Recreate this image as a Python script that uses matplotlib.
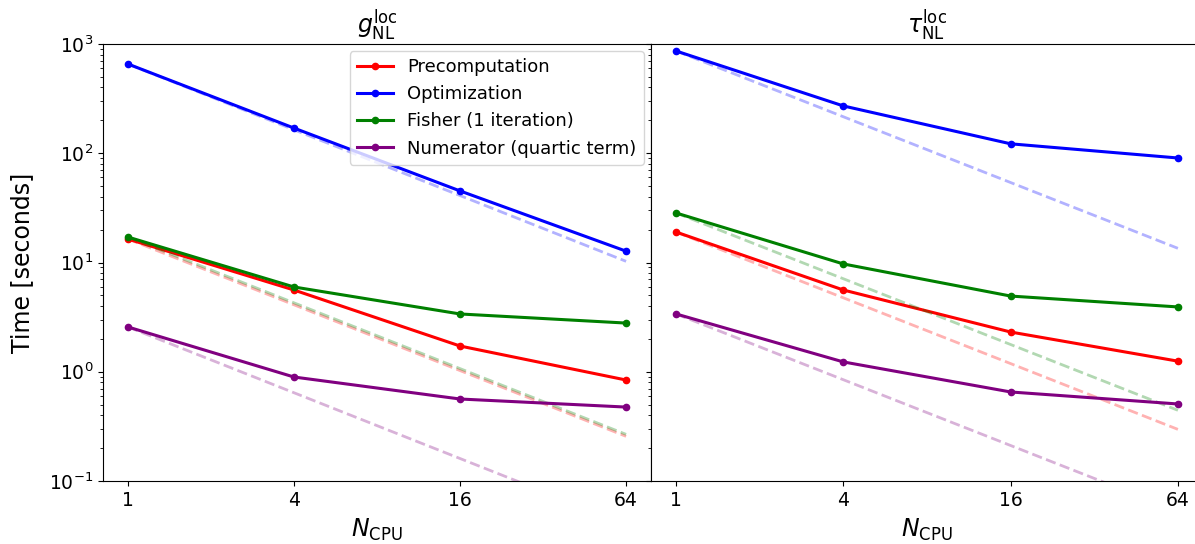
import numpy as np
import matplotlib.pyplot as plt
from matplotlib.ticker import FixedLocator, FixedFormatter, NullLocator

n_cpu = [1, 4, 16, 64]
tick_labels = ['1', '4', '16', '64']
series_names = ['Precomputation', 'Optimization', 'Fisher (1 iteration)', 'Numerator (quartic term)']
colors = ['red', 'blue', 'green', 'purple']

# g_NL^loc timings
g_pre = [16.4, 5.6, 1.72, 0.84]
g_opt = [656, 170, 45.2, 12.7]
g_fish = [17.1, 5.97, 3.38, 2.79]
g_num = [2.57, 0.895, 0.563, 0.475]

# tau_NL^loc timings
t_pre = [19.0, 5.6, 2.31, 1.25]
t_opt = [863, 271, 122, 90.5]
t_fish = [28.4, 9.7, 4.93, 3.92]
t_num = [3.38, 1.23, 0.653, 0.507]

panels = [
    (r'$g_{\rm NL}^{\rm loc}$', [g_pre, g_opt, g_fish, g_num]),
    (r'$\tau_{\rm NL}^{\rm loc}$', [t_pre, t_opt, t_fish, t_num]),
]

fig = plt.figure(figsize=(11.95, 5.44), dpi=100)
W, H = 1195, 544
ax1 = fig.add_axes([103 / W, (H - 481) / H, 548 / W, 437 / H])
ax2 = fig.add_axes([651 / W, (H - 481) / H, 552 / W, 437 / H], sharey=ax1)

N = np.array(n_cpu, dtype=float)
for ax, (title, data) in zip([ax1, ax2], panels):
    for vals, name, c in zip(data, series_names, colors):
        ax.plot(N, vals, '-o', color=c, lw=2.2, ms=4.5, label=name)
        ax.plot(N, vals[0] / N, '--', color=c, lw=2, alpha=0.3)
    ax.set_xscale('log')
    ax.set_yscale('log')
    ax.xaxis.set_major_locator(FixedLocator(n_cpu))
    ax.xaxis.set_major_formatter(FixedFormatter(tick_labels))
    ax.xaxis.set_minor_locator(NullLocator())
    ax.set_title(title, fontsize=17, pad=8)
    ax.set_xlabel(r'$N_{\rm CPU}$', fontsize=17, labelpad=5)
    ax.tick_params(labelsize=13.5)

ax1.set_ylim(0.1, 1000)
ax1.set_ylabel('Time [seconds]', fontsize=17, labelpad=11)
plt.setp(ax2.get_yticklabels(), visible=False)
ax1.legend(loc='upper right', fontsize=13, borderaxespad=0.4)

fig.savefig('out.png', dpi=100)
